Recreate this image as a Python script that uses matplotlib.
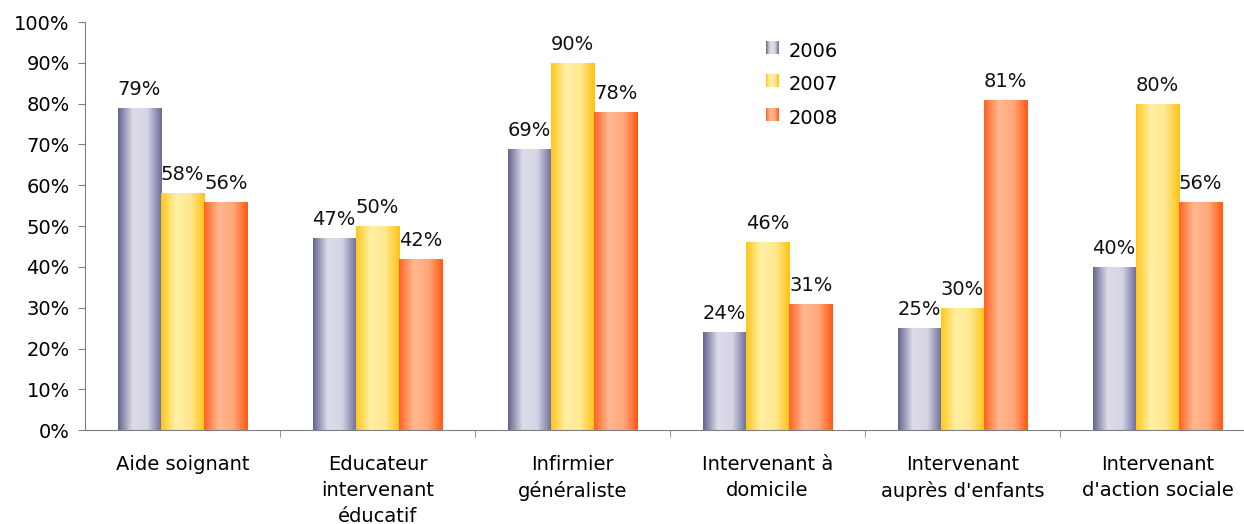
"""Taux par métier et par année (2006-2008), barres groupées en dégradé."""

import numpy as np
import matplotlib

matplotlib.use("Agg")
import matplotlib.pyplot as plt
from matplotlib.colors import LinearSegmentedColormap
from matplotlib.legend_handler import HandlerBase
from matplotlib.patches import Rectangle

metiers = [
    "Aide soignant",
    "Educateur\nintervenant\néducatif",
    "Infirmier\ngénéraliste",
    "Intervenant à\ndomicile",
    "Intervenant\nauprès d'enfants",
    "Intervenant\nd'action sociale",
]
annees = ["2006", "2007", "2008"]
taux_2006 = [79, 47, 69, 24, 25, 40]
taux_2007 = [58, 50, 90, 46, 30, 80]
taux_2008 = [56, 42, 78, 31, 81, 56]
series = [taux_2006, taux_2007, taux_2008]

# bord sombre -> centre clair -> bord sombre
degrades = [
    ["#64648f", "#dcdce9", "#d4d4e4", "#6a6a98"],
    ["#ffc61a", "#fff0a6", "#ffe88e", "#ffc214"],
    ["#ff6324", "#ffb78f", "#ffa87c", "#ff5a12"],
]
cmaps = [LinearSegmentedColormap.from_list(f"g{i}", c) for i, c in enumerate(degrades)]

plt.rcParams["font.family"] = ["DejaVu Sans"]
plt.rcParams["font.size"] = 14

fig = plt.figure(figsize=(12.44, 5.24), dpi=100)
ax = fig.add_axes([0.0683, 0.179, 0.9405, 0.779])

x = np.arange(len(metiers))
largeur = 0.222
ramp = np.linspace(0, 1, 256).reshape(1, -1)

for i, (vals, cmap) in enumerate(zip(series, cmaps)):
    pos = x + (i - 1) * largeur
    bars = ax.bar(pos, vals, width=largeur, color="none", edgecolor="none", zorder=2)
    for b, v in zip(bars, vals):
        x0, w = b.get_x(), b.get_width()
        img = ax.imshow(ramp, cmap=cmap, aspect="auto",
                        extent=(x0, x0 + w, 0, v), zorder=2)
        img.set_clip_path(b)
        ax.text(x0 + w / 2, v + 2.2, f"{v}%", ha="center", va="bottom",
                fontsize=14, color="#111111")


class HandlerDegrade(HandlerBase):
    def __init__(self, cmap):
        super().__init__()
        self.cmap = cmap

    def create_artists(self, legend, orig_handle, xdescent, ydescent,
                       width, height, fontsize, trans):
        n = 12
        cote = height * 0.8
        x0 = xdescent + width - cote
        y0 = ydescent + (height - cote) / 2
        artistes = []
        for k in range(n):
            r = Rectangle((x0 + k * cote / n, y0), cote / n + 0.3, cote,
                          facecolor=self.cmap((k + 0.5) / n), edgecolor="none",
                          transform=trans)
            artistes.append(r)
        return artistes


poignees = [Rectangle((0, 0), 1, 1) for _ in annees]
ax.legend(poignees, annees, loc="upper left", bbox_to_anchor=(0.565, 0.995),
          frameon=False, fontsize=14, handlelength=0.8, handleheight=0.9,
          handletextpad=0.5, labelspacing=0.75,
          handler_map={p: HandlerDegrade(c) for p, c in zip(poignees, cmaps)})

ax.set_ylim(0, 100)
ax.set_xlim(-0.5, len(metiers) - 0.5)
ax.set_yticks(np.arange(0, 101, 10))
ax.set_yticklabels([f"{t}%" for t in range(0, 101, 10)])
ax.set_xticks(x)
ax.set_xticklabels(metiers, linespacing=1.45)
ax.set_xticks(np.arange(0.5, len(metiers) - 0.5, 1), minor=True)
ax.tick_params(axis="x", which="major", length=0, pad=18)
ax.tick_params(axis="x", which="minor", length=5, color="#808080", direction="out")
ax.tick_params(axis="y", length=5, color="#808080", pad=6)

for side in ("top", "right"):
    ax.spines[side].set_visible(False)
for side in ("left", "bottom"):
    ax.spines[side].set_color("#808080")
    ax.spines[side].set_zorder(3)

fig.savefig("out.png", dpi=100)
